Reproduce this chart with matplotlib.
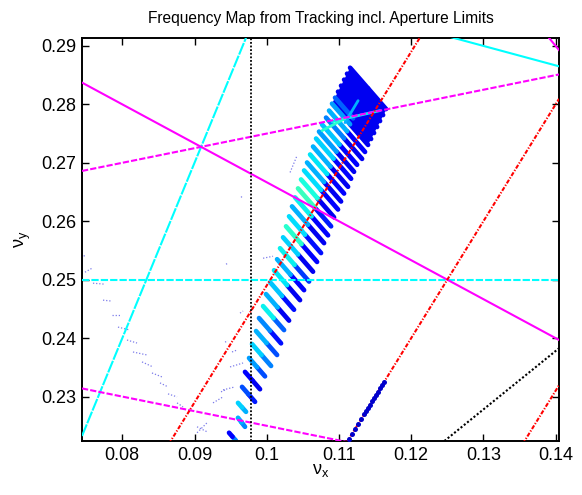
import numpy as np
import matplotlib.pyplot as plt
from matplotlib.collections import LineCollection

plt.rcParams['font.family'] = ['Liberation Sans', 'DejaVu Sans']
plt.rcParams['mathtext.fontset'] = 'custom'
plt.rcParams['mathtext.rm'] = 'Liberation Sans'

XLIM = (0.07442, 0.14047)
YLIM = (0.2224, 0.2913)

# resonance lines  m*nux + n*nuy = p
res_m = [3, 0, 1, 2, -1, 1, 3, -2, -2, -2, 1, -1]
res_n = [-1, 4, 3, 3, 4, 4, 2, 1, 1, 1, 0, 1]
res_p = [0, 1, 1, 1, 1, 1, 1, 0.049, 0, -0.049, 0.0978, 0.0978]
res_col = ['#00ffff', '#00ffff', '#00ffff', '#ff00ff', '#ff00ff', '#ff00ff', '#ff00ff',
           '#ff0000', '#ff0000', '#ff0000', 'k', 'k']
res_ls = [(0, (6, 0.6)), (0, (3.5, 1)), '-', '-', (0, (3, 1)), (0, (3, 1)), '-',
          (0, (2, 0.8, 0.6, 0.8)), (0, (2, 0.8, 0.6, 0.8)), (0, (2, 0.8, 0.6, 0.8)),
          (0, (1, 1)), (0, (1, 1))]

# dense core of the footprint (corners)
core_x = [0.11154, 0.11652, 0.11403, 0.10904]
core_y = [0.28626, 0.27903, 0.27306, 0.28012]

# tune footprint stripes: upper-left end -> lower-right end, diffusion (jet) of each half
sx0 = [0.11154, 0.11112, 0.11071, 0.11029, 0.10987, 0.10946, 0.10904, 0.10863, 0.10821, 0.10766,
       0.10724, 0.10683, 0.10641, 0.10600, 0.10558, 0.10517, 0.10475, 0.10433, 0.10392, 0.10350,
       0.10309, 0.10267, 0.10226, 0.10184, 0.10143, 0.10101, 0.10046, 0.09990, 0.09949, 0.09893,
       0.09852, 0.09796, 0.09755, 0.09699, 0.09658, 0.09602, 0.09602, 0.09478]
sy0 = [0.28626, 0.28524, 0.28422, 0.28319, 0.28217, 0.28114, 0.28012, 0.27893, 0.27773, 0.27654,
       0.27534, 0.27415, 0.27278, 0.27142, 0.27005, 0.26869, 0.26715, 0.26562, 0.26408, 0.26254,
       0.26084, 0.25913, 0.25725, 0.25538, 0.25350, 0.25162, 0.24957, 0.24753, 0.24548, 0.24343,
       0.24121, 0.23899, 0.23660, 0.23422, 0.23166, 0.22892, 0.22637, 0.22381]
sx1 = [0.11652, 0.11611, 0.11569, 0.11528, 0.11486, 0.11445, 0.11403, 0.11361, 0.11320, 0.11251,
       0.11209, 0.11168, 0.11126, 0.11071, 0.11029, 0.10987, 0.10932, 0.10891, 0.10849, 0.10794,
       0.10752, 0.10697, 0.10641, 0.10586, 0.10517, 0.10461, 0.10378, 0.10309, 0.10240, 0.10198,
       0.10143, 0.10060, 0.09976, 0.09907, 0.09838, 0.09713, 0.09699, 0.09575]
sy1 = [0.27920, 0.27817, 0.27715, 0.27613, 0.27510, 0.27408, 0.27306, 0.27186, 0.27067, 0.26966,
       0.26846, 0.26727, 0.26590, 0.26474, 0.26338, 0.26201, 0.26067, 0.25913, 0.25759, 0.25626,
       0.25456, 0.25304, 0.25137, 0.24968, 0.24821, 0.24650, 0.24486, 0.24300, 0.24138, 0.23911,
       0.23712, 0.23524, 0.23346, 0.23126, 0.22910, 0.22739, 0.22483, 0.22244]
sd0 = [0.10, 0.10, 0.10, 0.10, 0.10, 0.22, 0.28, 0.30, 0.25, 0.32,
       0.28, 0.33, 0.30, 0.35, 0.30, 0.34, 0.38, 0.42, 0.36, 0.30,
       0.34, 0.40, 0.33, 0.36, 0.30, 0.35, 0.32, 0.30, 0.36, 0.26,
       0.30, 0.33, 0.28, 0.12, 0.20, 0.33, 0.30, 0.12]
sd1 = [0.10, 0.10, 0.10, 0.10, 0.10, 0.10, 0.10, 0.12, 0.10, 0.12,
       0.10, 0.12, 0.10, 0.12, 0.10, 0.12, 0.10, 0.15, 0.12, 0.10,
       0.14, 0.12, 0.10, 0.18, 0.12, 0.10, 0.14, 0.10, 0.22, 0.14,
       0.20, 0.25, 0.20, 0.10, 0.15, 0.30, 0.26, 0.25]

# light streaks inside the dense core
fx0 = [0.10904, 0.11084, 0.10766]
fy0 = [0.27705, 0.27688, 0.27551]
fx1 = [0.11569, 0.11265, 0.11084]
fy1 = [0.27893, 0.28063, 0.27756]
fd = [0.36, 0.30, 0.40]

# points locked on the nuy = 2 nux line
bx = [0.11140, 0.11181, 0.11223, 0.11265, 0.11306, 0.11348, 0.11375, 0.11403,
      0.11431, 0.11458, 0.11486, 0.11514, 0.11541, 0.11569, 0.11597, 0.11625]
by = [0.2228, 0.2236, 0.2245, 0.2253, 0.2261, 0.2270, 0.2275, 0.2281,
      0.2286, 0.2292, 0.2297, 0.2303, 0.2308, 0.2314, 0.2319, 0.2325]

# sparse scattered particles
gx0 = [0.07470, 0.07483, 0.07594, 0.07733, 0.07857, 0.07940, 0.08065, 0.08148, 0.08273, 0.08411,
       0.08522, 0.08633, 0.08758, 0.09035, 0.09035, 0.09256, 0.09395, 0.09492, 0.09519, 0.09436,
       0.09949, 0.10323, 0.09644, 0.09630, 0.09367, 0.09422]
gy0 = [0.25418, 0.25128, 0.24940, 0.24650, 0.24394, 0.24189, 0.23968, 0.23763, 0.23593, 0.23404,
       0.23234, 0.23046, 0.22892, 0.22483, 0.22381, 0.22892, 0.23114, 0.23507, 0.23763, 0.25265,
       0.25367, 0.26835, 0.26408, 0.24428, 0.23080, 0.23933]
gx1 = [0.07483, 0.07580, 0.07760, 0.07857, 0.07968, 0.08107, 0.08204, 0.08342, 0.08425, 0.08550,
       0.08633, 0.08758, 0.08841, 0.09173, 0.09187, 0.09395, 0.09561, 0.09672, 0.09589, 0.09464,
       0.10087, 0.10420, 0.09658, 0.09672, 0.09422, 0.09464]
gy1 = [0.25367, 0.25196, 0.24923, 0.24633, 0.24394, 0.24138, 0.23916, 0.23712, 0.23507, 0.23336,
       0.23166, 0.22995, 0.22824, 0.22398, 0.22569, 0.22995, 0.23166, 0.23575, 0.23797, 0.25282,
       0.25401, 0.27125, 0.26425, 0.24463, 0.23114, 0.23950]

fig = plt.figure(figsize=(5.82, 4.95), dpi=100)
ax = fig.add_axes([0.1409, 0.1091, 0.8196, 0.8135])
cmap = plt.get_cmap('jet')

# scattered particles
for i in range(len(gx0)):
    ax.plot([gx0[i], gx1[i]], [gy0[i], gy1[i]], ls=(0, (1, 1.5)), lw=0.9,
            color='#6464e6', alpha=0.85, zorder=1)

# footprint
ax.fill(core_x, core_y, color=cmap(0.1), lw=0, zorder=2)
segs, cols = [], []
for i in range(len(sx0)):
    xm, ym = (sx0[i] + sx1[i]) / 2, (sy0[i] + sy1[i]) / 2
    segs.append([(xm, ym), (sx1[i], sy1[i])]); cols.append(cmap(sd1[i]))
for i in range(len(sx0)):
    xm, ym = (sx0[i] + sx1[i]) / 2, (sy0[i] + sy1[i]) / 2
    segs.append([(sx0[i], sy0[i]), (xm, ym)]); cols.append(cmap(sd0[i]))
lc = LineCollection(segs, colors=cols, linewidths=3.4, capstyle='round', zorder=2)
ax.add_collection(lc)
for i in range(len(fx0)):
    ax.plot([fx0[i], fx1[i]], [fy0[i], fy1[i]], lw=2, color=cmap(fd[i]),
            solid_capstyle='round', zorder=2)

# resonance lines
xs = np.array(XLIM)
for m, n, p, c, ls in zip(res_m, res_n, res_p, res_col, res_ls):
    if n == 0:
        ax.axvline(p / m, color=c, ls=ls, lw=1.3, zorder=3)
    else:
        ax.plot(xs, (p - m * xs) / n, color=c, ls=ls, lw=1.5, zorder=3)

ax.plot(bx, by, 'o', ms=3.6, color=(0, 0, 0.8), mec='none', zorder=4)

ax.set_xlim(XLIM)
ax.set_ylim(YLIM)
ax.set_xticks([0.08, 0.09, 0.10, 0.11, 0.12, 0.13, 0.14])
ax.set_xticklabels(['0.08', '0.09', '0.1', '0.11', '0.12', '0.13', '0.14'])
ax.set_yticks([0.23, 0.24, 0.25, 0.26, 0.27, 0.28, 0.29])
ax.set_yticklabels(['0.23', '0.24', '0.25', '0.26', '0.27', '0.28', '0.29'])
ax.tick_params(direction='in', top=True, right=True, length=5, width=1,
               labelsize=13, pad=4)
for s in ax.spines.values():
    s.set_linewidth(1.4)

ax.set_title('Frequency Map from Tracking incl. Aperture Limits', fontsize=11.2, pad=11)
ax.set_xlabel('ν$_{\\mathregular{x}}$', fontsize=13, labelpad=-1)
ax.set_ylabel('ν$_{\\mathregular{y}}$', fontsize=13, labelpad=6)

fig.savefig('out.png', dpi=100)
